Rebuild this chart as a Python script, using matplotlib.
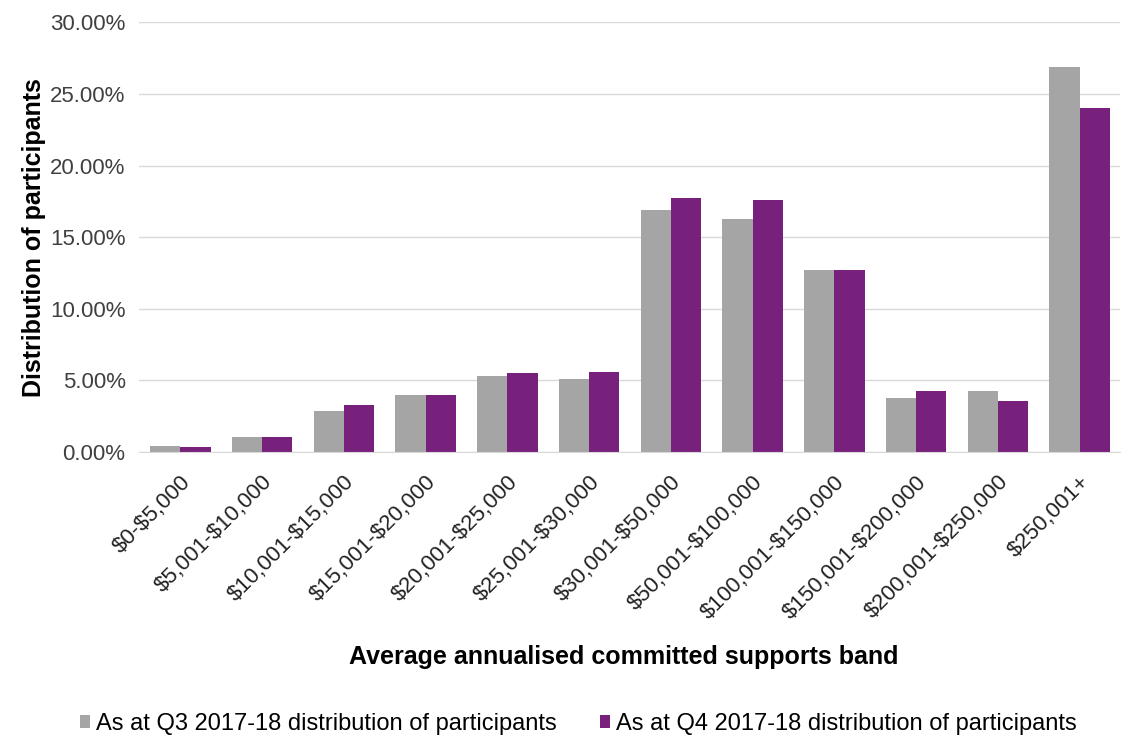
import numpy as np
import matplotlib.pyplot as plt
from matplotlib.ticker import PercentFormatter

bands = ["$0-$5,000", "$5,001-$10,000", "$10,001-$15,000", "$15,001-$20,000",
         "$20,001-$25,000", "$25,001-$30,000", "$30,001-$50,000", "$50,001-$100,000",
         "$100,001-$150,000", "$150,001-$200,000", "$200,001-$250,000", "$250,001+"]
q3_share = [0.40, 1.05, 2.85, 4.00, 5.30, 5.10, 16.90, 16.30, 12.70, 3.80, 4.30, 26.90]
q4_share = [0.35, 1.05, 3.30, 4.00, 5.50, 5.60, 17.70, 17.60, 12.70, 4.30, 3.60, 24.00]

labels = ["As at Q3 2017-18 distribution of participants",
          "As at Q4 2017-18 distribution of participants"]

plt.rcParams['font.family'] = ['Liberation Sans', 'DejaVu Sans']
plt.rcParams['text.parse_math'] = False

fig = plt.figure(figsize=(11.34, 7.4), dpi=100)
ax = fig.add_axes([0.123, 0.389, 0.865, 0.581])

x = np.arange(len(bands))
w = 0.37
ax.bar(x - w / 2, q3_share, w, color="#A5A5A5", label=labels[0])
ax.bar(x + w / 2, q4_share, w, color="#77207C", label=labels[1])

ax.set_xlim(-0.5, len(bands) - 0.5)
ax.set_ylim(0, 30)
ax.set_yticks(np.arange(0, 31, 5))
ax.yaxis.set_major_formatter(PercentFormatter(decimals=2))
ax.grid(axis="y", color="#D9D9D9", linewidth=1)
ax.set_axisbelow(True)
for s in ["top", "right", "left"]:
    ax.spines[s].set_visible(False)
ax.spines["bottom"].set_color("#D9D9D9")
ax.tick_params(axis="both", length=0, labelsize=16, colors="#404040")
ax.tick_params(axis="y", pad=10)
ax.tick_params(axis="x", pad=14)

ax.set_xticks(x)
ax.set_xticklabels(bands, rotation=45, ha="right", rotation_mode="anchor")
for lab in ax.get_xticklabels():
    lab.set_color("#222222")

ax.set_ylabel("Distribution of participants", fontsize=18, fontweight="bold", labelpad=4)
ax.yaxis.set_label_coords(-0.095, 0.5)
fig.text(0.55, 0.112, "Average annualised committed supports band",
         fontsize=18, fontweight="bold", ha="center", va="center")

fig.legend(loc="center", bbox_to_anchor=(0.51, 0.022), ncol=2, frameon=False,
           handlelength=0.45, handleheight=0.45, handletextpad=0.25,
           columnspacing=1.8, prop={'size': 17})

fig.savefig("out.png", dpi=100)
